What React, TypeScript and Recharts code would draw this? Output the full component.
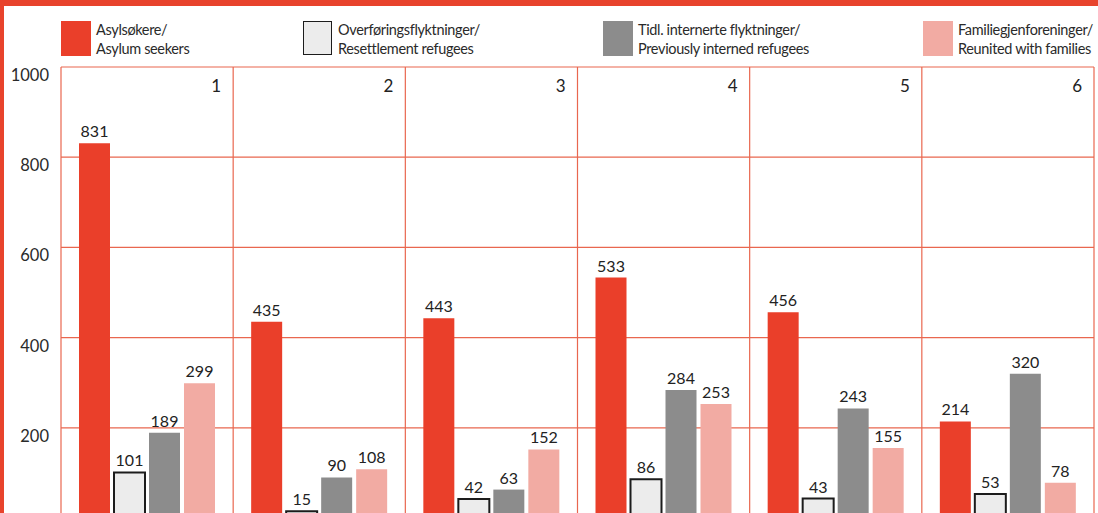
import React from "react";
import {
  BarChart,
  Bar,
  XAxis,
  YAxis,
  CartesianGrid,
  LabelList,
} from "recharts";

const groups = ["1", "2", "3", "4", "5", "6"];
const asylum = [831, 435, 443, 533, 456, 214];
const resettlement = [101, 15, 42, 86, 43, 53];
const interned = [189, 90, 63, 284, 243, 320];
const families = [299, 108, 152, 253, 155, 78];
const yTicks = [200, 400, 600, 800, 1000];

const series = [
  { key: "asylum", line1: "Asylsøkere/", line2: "Asylum seekers", fill: "#ea3f2a", stroke: "none" },
  { key: "resettlement", line1: "Overføringsflyktninger/", line2: "Resettlement refugees", fill: "#ececec", stroke: "#1c1c1c" },
  { key: "interned", line1: "Tidl. internerte flyktninger/", line2: "Previously interned refugees", fill: "#8c8c8c", stroke: "none" },
  { key: "families", line1: "Familiegjenforeninger/", line2: "Reunited with families", fill: "#f2aba3", stroke: "none" },
];

const data = groups.map((g, i) => ({
  name: g,
  asylum: asylum[i],
  resettlement: resettlement[i],
  interned: interned[i],
  families: families[i],
}));

const legendLeft = [61, 303, 603, 923];
const FONT = "Lato, 'Open Sans', sans-serif";
const RED = "#e8432c";
const GRID = "#e9674f";
const W = 1098;
const H = 522;
const PLOT_TOP = 67;
const margin = { top: PLOT_TOP - 20, right: 4, bottom: 4, left: 0 };
const bandHalf = (W - 61 - margin.right) / groups.length / 2;

const GroupTick = (props: any) => {
  const { x, payload } = props;
  return (
    <text
      x={x + bandHalf - 12}
      y={PLOT_TOP + 25}
      textAnchor="end"
      fontSize={17}
      fontFamily={FONT}
      fill="#222"
    >
      {payload.value}
    </text>
  );
};

const YTick = (props: any) => {
  const { x, y, payload } = props;
  return (
    <text x={x + 5} y={y + 14} textAnchor="end" fontSize={16.5} fontFamily={FONT} fill="#2a2a2a">
      {payload.value}
    </text>
  );
};

export default function App() {
  return (
    <div
      style={{
        position: "absolute",
        left: 0,
        top: 0,
        width: W,
        height: 513,
        overflow: "hidden",
        background: "#fff",
        fontFamily: FONT,
      }}
    >
      {series.map((s, i) => (
        <div key={s.key} style={{ position: "absolute", left: legendLeft[i], top: 21 }}>
          <div
            style={{
              position: "absolute",
              left: 0,
              top: 0,
              width: s.stroke === "none" ? 30 : 27,
              height: s.stroke === "none" ? 35 : 32,
              background: s.fill,
              border: s.stroke === "none" ? "none" : `1.5px solid ${s.stroke}`,
            }}
          />
          <div
            style={{
              position: "absolute",
              left: 35,
              top: -1,
              fontSize: 14.5,
              letterSpacing: -0.35,
              lineHeight: "19px",
              color: "#2a2a2a",
              whiteSpace: "nowrap",
            }}
          >
            {s.line1}
            <br />
            {s.line2}
          </div>
        </div>
      ))}
      <BarChart
        width={W}
        height={H}
        data={data}
        margin={margin}
        barCategoryGap={18}
        barGap={4}
        style={{ position: "absolute", left: 0, top: 0 }}
      >
        <CartesianGrid
          stroke={GRID}
          strokeWidth={1.2}
          verticalCoordinatesGenerator={({ offset }: any) =>
            groups.map((_, i) => offset.left + (i * offset.width) / groups.length).concat(offset.left + offset.width)
          }
        />
        <XAxis
          dataKey="name"
          orientation="top"
          height={20}
          axisLine={false}
          tickLine={false}
          tick={<GroupTick />}
          interval={0}
        />
        <YAxis
          domain={[0, 1000]}
          ticks={yTicks}
          width={61}
          axisLine={false}
          tickLine={false}
          tickMargin={11}
          tick={<YTick />}
        />
        {series.map((s) => (
          <Bar
            key={s.key}
            dataKey={s.key}
            fill={s.fill}
            stroke={s.stroke}
            strokeWidth={s.stroke === "none" ? 0 : 2}
            isAnimationActive={false}
          >
            <LabelList
              dataKey={s.key}
              position="top"
              offset={6}
              fontSize={16}
              fontFamily={FONT}
              fill="#222"
            />
          </Bar>
        ))}
      </BarChart>
      <div style={{ position: "absolute", left: 0, top: 0, width: W, height: 6, background: RED }} />
      <div style={{ position: "absolute", left: 0, top: 0, width: 4, height: 513, background: RED }} />
    </div>
  );
}
